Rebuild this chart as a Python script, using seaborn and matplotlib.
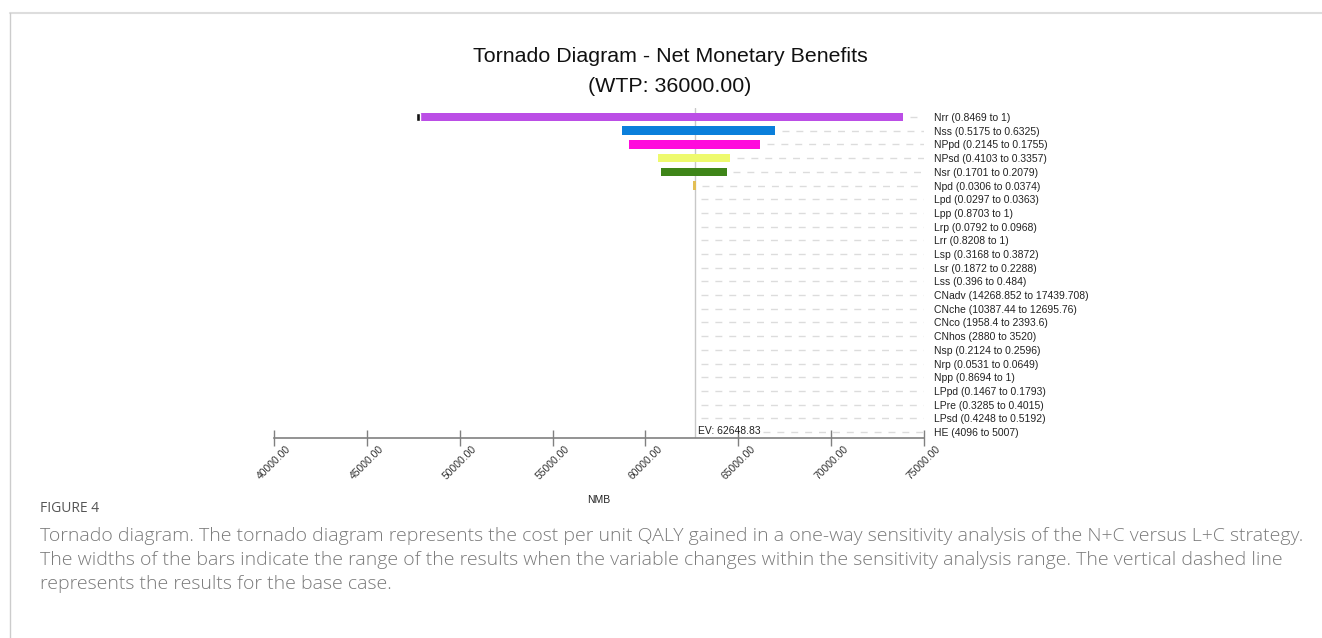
import matplotlib
matplotlib.use("Agg")
import matplotlib.pyplot as plt
from matplotlib.lines import Line2D
import seaborn as sns
import numpy as np
import pandas as pd

# ---------------- data ----------------
labels = [
    "Nrr (0.8469 to 1)", "Nss (0.5175 to 0.6325)", "NPpd (0.2145 to 0.1755)",
    "NPsd (0.4103 to 0.3357)", "Nsr (0.1701 to 0.2079)", "Npd (0.0306 to 0.0374)",
    "Lpd (0.0297 to 0.0363)", "Lpp (0.8703 to 1)", "Lrp (0.0792 to 0.0968)",
    "Lrr (0.8208 to 1)", "Lsp (0.3168 to 0.3872)", "Lsr (0.1872 to 0.2288)",
    "Lss (0.396 to 0.484)", "CNadv (14268.852 to 17439.708)",
    "CNche (10387.44 to 12695.76)", "CNco (1958.4 to 2393.6)",
    "CNhos (2880 to 3520)", "Nsp (0.2124 to 0.2596)", "Nrp (0.0531 to 0.0649)",
    "Npp (0.8694 to 1)", "LPpd (0.1467 to 0.1793)", "LPre (0.3285 to 0.4015)",
    "LPsd (0.4248 to 0.5192)", "HE (4096 to 5007)",
]
low_values = [47850, 58740, 59120, 60680, 60840, 62560] + [62648.83] * 18
high_values = [73870, 66980, 66170, 64560, 64390, 62720] + [62648.83] * 18
bar_colors = ["#BB4EE6", "#0A7FDB", "#FF0ADC", "#EEFA6E", "#3E8518", "#E2BE55"] + ["#FFFFFF"] * 18
nrr_low_marker = [47670, 47850]   # dark segment at the low end of Nrr bar
ev_value = 62648.83
wtp = 36000.00
x_ticks = [40000, 45000, 50000, 55000, 60000, 65000, 70000, 75000]

df = pd.DataFrame({"label": labels, "low": low_values, "high": high_values,
                   "color": bar_colors})
df["pos"] = np.arange(len(df))
df["width"] = df["high"] - df["low"]

# ---------------- figure ----------------
sns.set_theme(style="white")
plt.rcParams["font.family"] = ["Liberation Sans", "DejaVu Sans"]

W, H = 1322, 638
fig = plt.figure(figsize=(W / 100, H / 100), dpi=100, facecolor="white")
ax_left, ax_right, ax_top, ax_bottom = 274, 924, 108, 438
ax = fig.add_axes([ax_left / W, 1 - ax_bottom / H,
                   (ax_right - ax_left) / W, (ax_bottom - ax_top) / H])
ax.set_facecolor("white")

# bars
has_bar = df["width"] > 0
bars = df[has_bar]
ax.barh(bars["pos"], bars["width"], left=bars["low"], height=0.62,
        color=bars["color"], edgecolor="none", zorder=3)
ax.barh([0], [nrr_low_marker[1] - nrr_low_marker[0]], left=nrr_low_marker[0],
        height=0.62, color="#111111", zorder=4)

# EV line
ax.axvline(ev_value, color="#c8c8c8", lw=1, zorder=2)

# dashed guide lines
xmin, xmax = 40000, 75000
gap = 350
for _, r in df.iterrows():
    start = max(r["high"], ev_value) + gap
    if r["pos"] == len(df) - 1:
        start = ev_value + 3700
    ax.hlines(r["pos"], start, xmax, colors="#dcdcdc", lw=1,
              linestyles=(0, (5, 5)), zorder=1)

ax.text(ev_value + 200, len(df) - 1 + 0.3, f"EV: {ev_value:.2f}", fontsize=7.5,
        color="#222222", ha="left", va="bottom")

ax.set_xlim(xmin, xmax)
ax.set_ylim(len(df) - 1 + 0.44, -0.66)

ax.set_xticks(x_ticks)
ax.set_xticklabels([f"{t:.2f}" for t in x_ticks], rotation=45, ha="center",
                   va="top", fontsize=7.5, color="#333333")
ax.tick_params(axis="x", bottom=True, direction="inout", length=12, width=1,
               color="#808080", pad=-2)

ax.set_yticks(df["pos"])
ax.set_yticklabels(df["label"], fontsize=7.5, color="#222222")
ax.yaxis.tick_right()
ax.tick_params(axis="y", left=False, right=False, length=0, pad=7)

for s in ["top", "left", "right"]:
    ax.spines[s].set_visible(False)
ax.spines["bottom"].set_color("#808080")
ax.spines["bottom"].set_linewidth(1.2)
ax.grid(False)

ax.set_xlabel("NMB", fontsize=7.5, color="#222222")
ax.xaxis.set_label_coords(0.5, (ax_bottom - 495) / (ax_bottom - ax_top))

fig.text(670 / W, 1 - 57 / H, "Tornado Diagram - Net Monetary Benefits",
         ha="center", va="center", fontsize=15.4, color="#111111")
fig.text(670 / W, 1 - 86 / H, f"(WTP: {wtp:.2f})",
         ha="center", va="center", fontsize=15.4, color="#111111")

# caption
cap_font = ["Open Sans", "DejaVu Sans"]
fig.text(40 / W, 1 - 509 / H, "FIGURE 4", ha="left", va="center",
         fontsize=10, color="#555555", family=cap_font)
caption_lines = [
    "Tornado diagram. The tornado diagram represents the cost per unit QALY gained in a one-way sensitivity analysis of the N+C versus L+C strategy.",
    "The widths of the bars indicate the range of the results when the variable changes within the sensitivity analysis range. The vertical dashed line",
    "represents the results for the base case.",
]
for i, line in enumerate(caption_lines):
    fig.text(40 / W, 1 - (536 + 24 * i) / H, line, ha="left", va="center",
             fontsize=14.0, color="#7a7a7a", family=cap_font, fontweight="light")

# frame lines
fig.add_artist(Line2D([9.5 / W, 1], [1 - 12.5 / H, 1 - 12.5 / H],
                      transform=fig.transFigure, color="#dddddd", lw=1.5))
fig.add_artist(Line2D([9.5 / W, 9.5 / W], [0, 1 - 12.5 / H],
                      transform=fig.transFigure, color="#cccccc", lw=1))

fig.savefig("out.png", dpi=100, facecolor="white")
